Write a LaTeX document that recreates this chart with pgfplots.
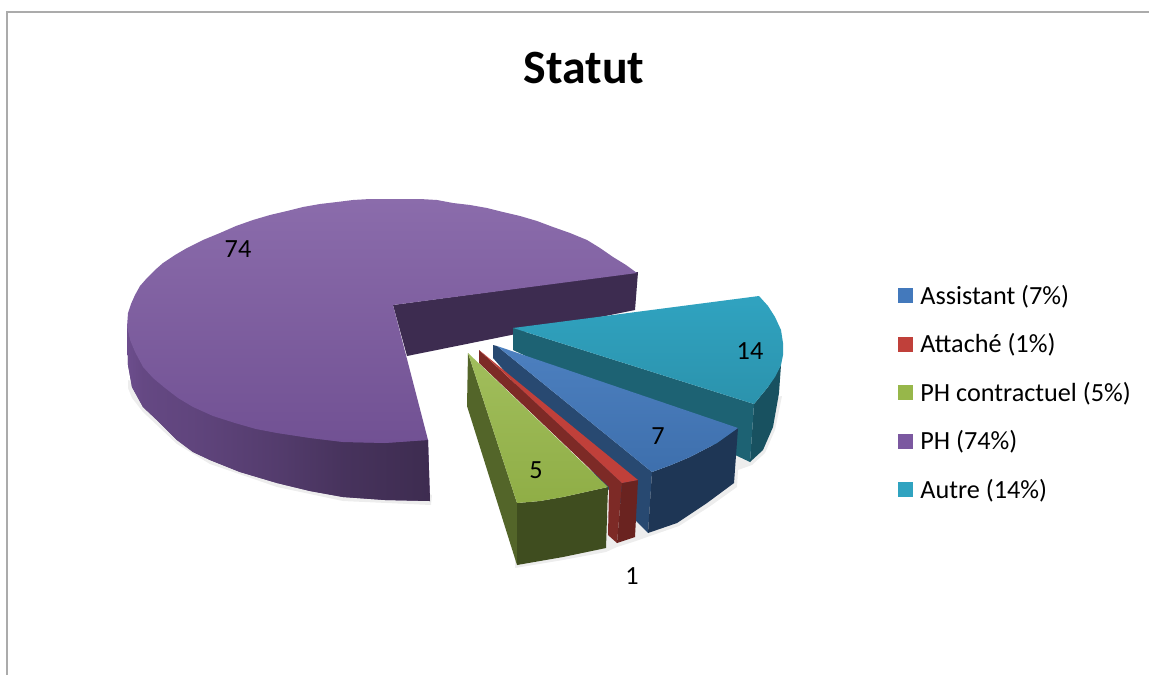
\documentclass[border=0pt]{standalone}
\usepackage{fontspec}
\setmainfont{Carlito}
\usepackage{pgfplots}
\pgfplotsset{compat=1.18}
% coordinates are in reference pixels, y pointing down
\definecolor{cAssist}{HTML}{4379BC}
\definecolor{cAttache}{HTML}{C0403A}
\definecolor{cContr}{HTML}{97B74A}
\definecolor{cPH}{HTML}{7B58A0}
\definecolor{cAutre}{HTML}{30A3C0}
\begin{document}
\begin{tikzpicture}
\begin{axis}[
  scale only axis,width=574.5pt,height=337.5pt,
  xmin=0,xmax=1149,ymin=0,ymax=675,y dir=reverse,
  axis lines=none,
  legend cell align=left,
  legend style={at={(axis cs:898,285)},anchor=north west,draw=none,fill=none,
    font=\fontsize{13.1pt}{14pt}\selectfont,row sep=13.1pt,inner sep=0pt,
    nodes={inner xsep=3.5pt,inner ysep=0pt}},
  legend image code/.code={\fill[#1] (-3.5pt,-3.5pt) rectangle (4pt,4pt);},
]
\addlegendimage{fill=cAssist,draw=none}\addlegendentry{Assistant (7\%)}
\addlegendimage{fill=cAttache,draw=none}\addlegendentry{Attaché (1\%)}
\addlegendimage{fill=cContr,draw=none}\addlegendentry{PH contractuel (5\%)}
\addlegendimage{fill=cPH,draw=none}\addlegendentry{PH (74\%)}
\addlegendimage{fill=cAutre,draw=none}\addlegendentry{Autre (14\%)}
% page
\addplot[forget plot,draw=none,fill=white] coordinates {(0,0) (1149,0) (1149,675) (0,675)} --cycle;
% frame
\addplot[forget plot,color=black!33,line width=1.2pt] coordinates {(7,675) (7,12) (1149,12)};
% soft shadows
\addplot[forget plot,draw=none,fill=black,opacity=.07] coordinates {(128,388) (132,398) (143,412) (177,444) (210,464) (277,487) (343,501) (431,505) (432,495) (128,380)} --cycle;
\addplot[forget plot,draw=none,fill=black,opacity=.07] coordinates {(515,568) (563,560) (606,552) (617,547) (636,541) (650,536) (679,526) (709,507) (737,487) (738,470) (752,465) (765,453) (775,430) (782,396) (760,400) (640,500) (515,560)} --cycle;
% PH (purple)
\addplot[forget plot,draw=none,fill=black!50!cPH] coordinates {(393,305) (638,272) (635,310) (407,356)} --cycle;
\addplot[forget plot,draw=none,fill=black!25!cPH] coordinates {(127,327) (428,440) (430,501) (385,500) (343,497) (310,491) (277,483) (240,472) (210,460) (193,452) (177,440) (160,423) (143,407) (132,387) (128,365)} --cycle;
\addplot[forget plot,draw=none,left color=black!12!cPH,right color=black!18!cPH] coordinates {(127,327) (130,340) (135,352) (143,367) (143,407) (132,387) (128,365)} --cycle;
\addplot[forget plot,draw=none,left color=black!18!cPH,right color=black!22!cPH] coordinates {(143,367) (153,378) (165,388) (178,398) (193,407) (193,452) (177,440) (160,423) (143,407)} --cycle;
\addplot[forget plot,draw=none,left color=black!22!cPH,right color=black!32!cPH] coordinates {(193,407) (213,416) (235,423) (256,429) (277,433) (277,483) (240,472) (210,460) (193,452)} --cycle;
\addplot[forget plot,draw=none,left color=black!32!cPH,right color=black!42!cPH] coordinates {(277,433) (310,438) (343,442) (343,497) (310,491) (277,483)} --cycle;
\addplot[forget plot,draw=none,left color=black!42!cPH,right color=black!50!cPH] coordinates {(343,442) (385,443) (428,440) (430,501) (385,500) (343,497)} --cycle;
\addplot[forget plot,draw=none,top color=cPH!88!white,bottom color=black!8!cPH] coordinates {
  (637,273) (626,265) (613,257) (600,248) (587,240) (570,233) (553,227) (537,221) (520,216) (503,212)
  (487,208) (470,205) (453,203) (437,200) (420,199) (403,199) (387,199) (370,199) (353,200) (337,202) (320,204)
  (303,207) (287,211) (270,215) (253,220) (236,226) (220,233) (203,240) (187,248) (175,255) (163,263)
  (155,270) (147,278) (140,286) (135,295) (131,304) (128,313) (127,327) (130,340) (135,352) (143,367)
  (153,378) (165,388) (178,398) (193,407) (213,416) (235,423) (256,429) (277,433) (310,438) (343,442) (385,443) (428,440) (393,305)} --cycle;
% Autre (teal)
\addplot[forget plot,draw=none,fill=black!50!cAutre] coordinates {(754,404) (768,387) (781,365) (779,393) (773,427) (763,450) (750,462)} --cycle;
\addplot[forget plot,draw=none,fill=black!40!cAutre] coordinates {(513,328) (754,404) (750,462) (513,350)} --cycle;
\addplot[forget plot,draw=none,top color=cAutre,bottom color=black!10!cAutre] coordinates {(513,328) (759,296) (768,306) (775,317) (781,330) (783,343) (783,355) (781,365) (775,377) (768,387) (754,404)} --cycle;
% Assistant (blue)
\addplot[forget plot,draw=none,fill=black!40!cAssist] coordinates {(497,346) (652,472) (648,533) (635,520) (493,358) (493,345)} --cycle;
\addplot[forget plot,draw=none,fill=black!55!cAssist] coordinates {(652,472) (671,465) (690,457) (717,443) (738,428) (734,483) (707,503) (677,523) (648,533)} --cycle;
\addplot[forget plot,draw=none,top color=cAssist!95!white,bottom color=black!8!cAssist] coordinates {(497,346) (738,428) (717,443) (690,457) (671,465) (652,472)} --cycle;
% Attache (red)
\addplot[forget plot,draw=none,fill=black!35!cAttache] coordinates {(479,350) (622,483) (617,543) (608,535) (609,487) (479,363)} --cycle;
\addplot[forget plot,draw=none,fill=black!45!cAttache] coordinates {(622,483) (638,480) (635,537) (617,543)} --cycle;
\addplot[forget plot,draw=none,fill=cAttache] coordinates {(479,350) (638,480) (622,483)} --cycle;
% PH contractuel (green)
\addplot[forget plot,draw=none,fill=black!45!cContr] coordinates {(468,353) (517,503) (517,565) (467,406)} --cycle;
\addplot[forget plot,draw=none,fill=black!58!cContr] coordinates {(517,503) (540,501) (563,497) (608,487) (606,548) (563,557) (517,565)} --cycle;
\addplot[forget plot,draw=none,top color=cContr!90!white,bottom color=black!5!cContr] coordinates {(468,353) (608,487) (563,497) (540,501) (517,503)} --cycle;
% labels
\node[font=\fontsize{23.9pt}{26pt}\selectfont\bfseries] at (axis cs:584,68) {Statut};
\node[font=\fontsize{13.1pt}{14pt}\selectfont] at (axis cs:238,249) {74};
\node[font=\fontsize{13.1pt}{14pt}\selectfont] at (axis cs:750,351) {14};
\node[font=\fontsize{13.1pt}{14pt}\selectfont] at (axis cs:658,436) {7};
\node[font=\fontsize{13.1pt}{14pt}\selectfont] at (axis cs:536,470) {5};
\node[font=\fontsize{13.1pt}{14pt}\selectfont] at (axis cs:632,576) {1};
\end{axis}
\end{tikzpicture}
\end{document}
